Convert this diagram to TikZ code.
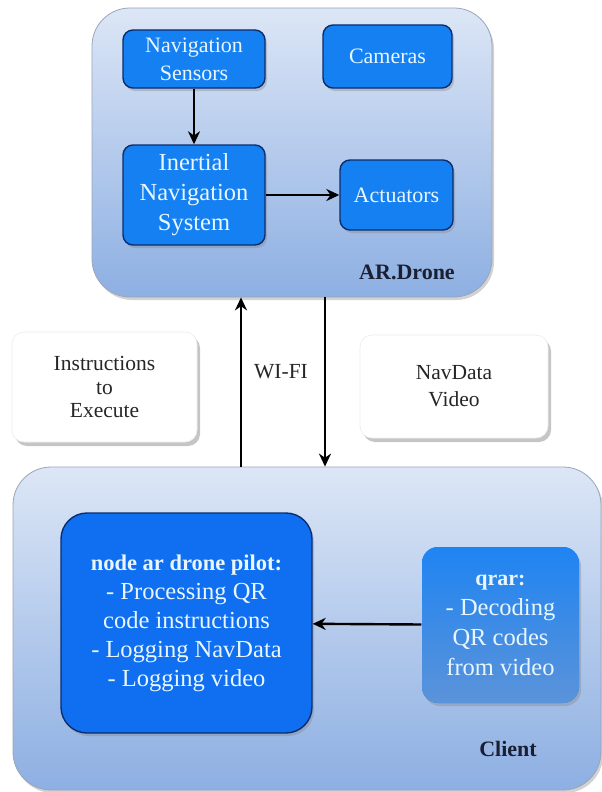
\documentclass[tikz,border=0pt]{standalone}
\usepackage{fontspec}
\setmainfont{Liberation Serif}
\usetikzlibrary{shadows,arrows.meta}
\definecolor{outertop}{HTML}{DCE6F6}
\definecolor{outerbot}{HTML}{8DAFE2}
\definecolor{outeredge}{HTML}{9AA6B8}
\definecolor{innerfill}{HTML}{1580F2}
\definecolor{pilotfill}{HTML}{0F6FF0}
\definecolor{inneredge}{HTML}{0B2D6E}
\definecolor{innertext}{HTML}{E8F6FF}
\definecolor{qrtop}{HTML}{1F84F2}
\definecolor{qrbot}{HTML}{5B93D9}
\definecolor{labeltext}{HTML}{1A1F33}
\begin{document}
\begin{tikzpicture}[x=1pt,y=-1pt,
  outerbox/.style={rounded corners=38pt, draw=outeredge, line width=0.8pt,
    top color=outertop, bottom color=outerbot,
    drop shadow={shadow xshift=2pt, shadow yshift=-3pt, opacity=0.35}},
  innerbox/.style={rounded corners=10pt, draw=inneredge, line width=1.4pt,
    fill=innerfill, text=innertext, align=center, inner sep=0pt,
    font=\fontsize{22}{28}\selectfont,
    drop shadow={shadow xshift=2pt, shadow yshift=-3pt, opacity=0.35}},
  notebox/.style={rounded corners=12pt, draw=gray!15, line width=0.6pt,
    fill=white, align=center, inner sep=0pt, text=black!85,
    font=\fontsize{21.5}{23.5}\selectfont,
    drop shadow={shadow xshift=3pt, shadow yshift=-4pt, opacity=0.45}},
  arr/.style={line width=2.4pt, -{Stealth[length=13pt,width=12pt]}},
  tag/.style={font=\bfseries\fontsize{22}{26}\selectfont, text=labeltext}
]
\useasboundingbox (0,0) rectangle (602,792);
\fill[white] (0,0) rectangle (602,792);

% AR.Drone group
\node[outerbox, minimum width=400pt, minimum height=289pt] (drone) at (292,152.5) {};
\node[innerbox, minimum width=142pt, minimum height=58pt] (navs) at (194,59) {Navigation\\Sensors};
\node[innerbox, minimum width=129pt, minimum height=63pt] (cams) at (387.5,56.5) {Cameras};
\node[innerbox, minimum width=142pt, minimum height=100pt, font=\fontsize{24.5}{30}\selectfont] (ins) at (194,195) {Inertial\\Navigation\\System};
\node[innerbox, minimum width=113pt, minimum height=70pt] (act) at (396.5,195) {Actuators};
\node[tag] (dronelbl) at (407,272) {AR.Drone};

\draw[arr] (navs) -- (ins);
\draw[arr] (ins) -- (act);

% notes
\node[notebox, minimum width=185pt, minimum height=110pt] (instr) at (104.5,387) {Instructions\\to\\Execute};
\node[notebox, minimum width=188pt, minimum height=103pt, font=\fontsize{21.5}{27}\selectfont] (navd) at (454,386.5) {NavData\\Video};
\node[font=\fontsize{21.5}{26}\selectfont, text=black!85] (wifi) at (281,372) {WI-FI};

% Client group
\node[outerbox, minimum width=588pt, minimum height=323pt] (client) at (307,628.5) {};
\node[innerbox, fill=pilotfill, minimum width=251pt, minimum height=220pt, rounded corners=26pt, font=\fontsize{24.5}{29}\selectfont] (pilot) at (186.5,623)
  {{\bfseries\fontsize{22.5}{29}\selectfont node ar drone pilot:}\\- Processing QR\\code instructions\\- Logging NavData\\- Logging video};
\node[innerbox, draw=none, top color=qrtop, bottom color=qrbot, rounded corners=16pt, minimum width=157pt, minimum height=156pt, font=\fontsize{24.5}{30}\selectfont] (qrar) at (500.5,625)
  {{\bfseries\fontsize{22}{30}\selectfont qrar:}\\- Decoding\\QR codes\\from video};
\node[tag] (clientlbl) at (508,749) {Client};

\draw[arr] (qrar) -- (pilot);

% WI-FI links
\coordinate (upx) at (241,0);
\coordinate (downx) at (325,0);
\draw[arr] (client.north -| upx) -- (drone.south -| upx);
\draw[arr] (drone.south -| downx) -- (client.north -| downx);
\end{tikzpicture}
\end{document}
